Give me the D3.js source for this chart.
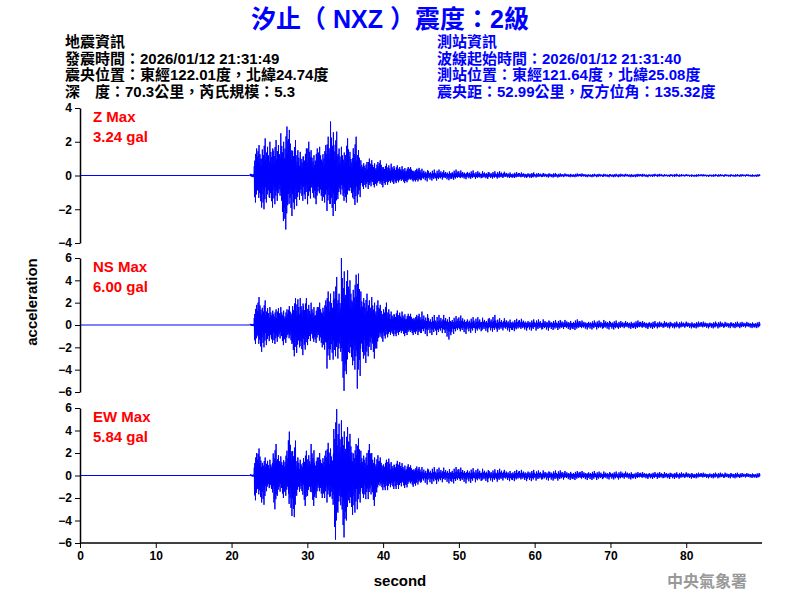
<!DOCTYPE html>
<html><head><meta charset="utf-8">
<script src="https://cdn.jsdelivr.net/npm/d3@7"></script>
<style>body{margin:0;background:#fff}text{font-family:Arial,"Liberation Sans","Noto Sans CJK TC",sans-serif}</style>
</head><body><svg id="c" width="800" height="600"></svg>
<script>
const title = "汐止（ NXZ ）震度：2級";
const quakeInfo = ["地震資訊","發震時間：2026/01/12 21:31:49","震央位置：東經122.01度，北緯24.74度","深　度：70.3公里，芮氏規模：5.3"];
const stationInfo = ["測站資訊","波線起始時間：2026/01/12 21:31:40","測站位置：東經121.64度，北緯25.08度","震央距：52.99公里，反方位角：135.32度"];
const channels = ["Z Max","NS Max","EW Max"];
const maxLabels = ["3.24 gal","6.00 gal","5.84 gal"];
const yTicksZ = [-4,-2,0,2,4];
const yTicksH = [-6,-4,-2,0,2,4,6];
const xTicks = [0,10,20,30,40,50,60,70,80];
// envelope bins: first 45 bins every 0.5 s from 22.5 s, then every 1 s from 45 s
const zMax = [0.1,1.6,1.8,2.2,1.7,2.0,2.1,1.8,2.5,2.9,2.7,2.1,1.5,1.4,1.6,2.0,1.5,1.6,1.7,1.8,2.3,3.2,2.6,1.6,1.7,2.2,1.4,2.3,1.5,0.9,0.8,1.0,0.9,0.8,0.9,0.7,0.6,0.7,0.6,0.5,0.55,0.5,0.5,0.4,0.45,
 0.4,0.35,0.35,0.3,0.35,0.3,0.3,0.25,0.25,0.25,0.25,0.22,0.2,0.18,0.18,0.15,0.15,0.15,0.12,0.12,0.12,0.12,0.1,0.1,0.1,0.1,0.1,0.1,0.1,0.1,0.1,0.1,0.08,0.1,0.08,0.08,0.08,0.08,0.08,0.08,0.08,0.08,0.08,0.08,0.08];
const zMin = [-0.1,-1.6,-1.9,-2.0,-1.6,-1.9,-1.7,-1.5,-2.7,-3.2,-2.4,-2.0,-1.8,-1.5,-1.4,-1.7,-1.3,-1.7,-1.5,-1.6,-2.1,-2.4,-2.1,-1.4,-1.5,-1.6,-1.3,-1.75,-1.6,-0.8,-0.7,-0.8,-0.7,-0.6,-0.7,-0.55,-0.55,-0.5,-0.45,-0.4,-0.45,-0.4,-0.35,-0.35,-0.35,
 -0.35,-0.3,-0.3,-0.28,-0.25,-0.22,-0.2,-0.2,-0.2,-0.18,-0.18,-0.15,-0.15,-0.15,-0.15,-0.12,-0.12,-0.12,-0.12,-0.1,-0.1,-0.1,-0.1,-0.1,-0.1,-0.1,-0.1,-0.1,-0.1,-0.1,-0.08,-0.08,-0.08,-0.08,-0.08,-0.08,-0.08,-0.08,-0.08,-0.08,-0.08,-0.08,-0.08,-0.08,-0.08];
const nsMax = [0.1,1.8,2.5,2.2,1.5,1.6,1.4,1.5,1.6,1.4,1.7,2.4,2.3,2.4,2.4,1.8,2.0,1.6,2.0,2.2,3.0,2.8,4.3,2.8,6.0,4.9,4.0,4.5,4.6,3.0,2.8,2.2,2.5,2.2,1.8,2.0,1.4,1.2,1.3,1.1,1.2,1.0,1.0,0.9,1.0,
 1.2,0.9,0.9,0.9,0.8,0.85,0.7,0.7,0.65,0.9,0.6,0.6,0.55,0.55,0.5,0.5,0.5,0.45,0.45,0.45,0.5,0.4,0.4,0.4,0.45,0.4,0.35,0.35,0.4,0.35,0.35,0.3,0.35,0.3,0.3,0.3,0.3,0.3,0.3,0.3,0.28,0.3,0.28,0.28,0.28];
const nsMin = [-0.1,-1.7,-2.4,-2.0,-1.8,-1.6,-1.7,-1.5,-1.8,-1.6,-1.7,-2.8,-2.5,-2.7,-2.2,-1.8,-1.5,-1.6,-2.0,-2.2,-3.9,-3.1,-2.8,-3.0,-5.9,-4.4,-3.6,-4.0,-5.7,-3.0,-3.4,-2.8,-3.0,-2.1,-1.5,-1.2,-1.1,-1.0,-1.0,-0.9,-1.0,-0.9,-0.9,-0.8,-0.9,
 -1.0,-0.9,-0.9,-1.3,-0.8,-0.8,-0.7,-0.7,-0.65,-0.6,-0.6,-0.6,-0.55,-0.5,-0.5,-0.5,-0.5,-0.45,-0.45,-0.45,-0.45,-0.4,-0.4,-0.4,-0.4,-0.4,-0.35,-0.35,-0.35,-0.35,-0.35,-0.3,-0.3,-0.3,-0.3,-0.3,-0.3,-0.3,-0.3,-0.3,-0.28,-0.28,-0.28,-0.28,-0.28];
const ewMax = [0.1,2.0,2.4,1.6,1.3,1.4,2.8,1.8,1.7,2.2,3.9,3.1,1.6,1.4,2.2,1.8,2.8,1.6,2.0,2.2,2.9,2.4,5.9,4.6,4.9,4.3,3.7,2.8,3.3,2.2,2.0,2.8,2.0,1.8,1.6,1.4,1.5,1.2,1.3,1.2,1.1,1.0,0.9,0.8,0.75,
 0.75,0.75,0.7,0.7,0.75,0.7,0.65,0.6,0.6,0.55,0.6,0.5,0.5,0.5,0.5,0.45,0.45,0.45,0.45,0.4,0.4,0.4,0.4,0.35,0.35,0.35,0.35,0.35,0.3,0.3,0.3,0.3,0.3,0.28,0.28,0.28,0.25,0.25,0.25,0.25,0.25,0.25,0.22,0.22,0.22];
const ewMin = [-0.1,-2.2,-2.4,-2.6,-1.4,-1.5,-3.0,-1.8,-2.0,-1.8,-3.6,-3.7,-1.8,-1.7,-2.7,-1.8,-2.7,-2.0,-2.0,-2.0,-2.4,-2.6,-5.7,-3.3,-5.5,-4.0,-3.5,-3.3,-3.0,-2.0,-2.1,-2.1,-2.7,-1.5,-1.3,-1.3,-1.3,-1.2,-1.2,-1.2,-1.1,-1.05,-1.0,-0.9,-0.8,
 -0.8,-0.75,-0.75,-0.7,-0.7,-0.7,-0.65,-0.6,-0.6,-0.55,-0.55,-0.5,-0.5,-0.5,-0.5,-0.45,-0.45,-0.45,-0.45,-0.4,-0.4,-0.4,-0.4,-0.4,-0.35,-0.35,-0.35,-0.35,-0.3,-0.3,-0.3,-0.3,-0.3,-0.3,-0.28,-0.28,-0.25,-0.25,-0.25,-0.25,-0.25,-0.25,-0.22,-0.22,-0.22];
// drawing texture: relative heights of the sub-swings inside one bin
const swing = [1,0.45,0.7,0.35,0.55,0.3,0.8,0.4];
const binTime = i => i < 45 ? 22.5 + 0.5*i : 45 + (i-45);

const svg = d3.select("#c");
const x = d3.scaleLinear().domain([0,90]).range([80,762]);
const panels = [
 {top:108,bot:243,dom:[-4,4],ticks:yTicksZ,mx:zMax,mn:zMin},
 {top:258,bot:392,dom:[-6,6],ticks:yTicksH,mx:nsMax,mn:nsMin},
 {top:408,bot:543,dom:[-6,6],ticks:yTicksH,mx:ewMax,mn:ewMin}];
panels.forEach((p,k)=>{
  const y = d3.scaleLinear().domain(p.dom).range([p.bot,p.top]);
  const pts = [[0,0],[22.4,0]];
  const n = Math.min(p.mx.length,p.mn.length);
  for(let i=0;i<n;i++){
    const t=binTime(i), w=i<45?0.5:1, m=swing.length, s=(i*3)%m;
    for(let j=0;j<m;j++){
      pts.push([t+j*w/m, p.mx[i]*swing[(j+s)%m]]);
      pts.push([t+(j+0.5)*w/m, p.mn[i]*swing[(j+s+3)%m]]);
    }
  }
  svg.append("path").attr("d",d3.line().x(d=>x(d[0])).y(d=>y(d[1]))(pts.filter(d=>d[0]<=89.8)))
    .attr("fill","none").attr("stroke","#0000ff").attr("stroke-width",1);
  const ax = svg.append("g").attr("transform","translate(80,0)").call(d3.axisLeft(y).tickValues(p.ticks).tickSize(5).tickSizeOuter(0));
  ax.select(".domain").attr("stroke","#000").attr("stroke-width",1.5);
  ax.selectAll("text").attr("font-size",12).attr("font-weight","bold").attr("fill","#000");
  svg.append("text").attr("x",93).attr("y",p.top+14).attr("fill","#ff0000").attr("font-size",15).attr("font-weight","bold").text(channels[k]);
  svg.append("text").attr("x",93).attr("y",p.top+34).attr("fill","#ff0000").attr("font-size",15).attr("font-weight","bold").text(maxLabels[k]);
});
const xa = svg.append("g").attr("transform","translate(0,543)").call(d3.axisBottom(x).tickValues(xTicks).tickSize(5).tickSizeOuter(0));
xa.select(".domain").attr("d","M80,0H762").attr("stroke-width",1.5);
xa.selectAll("text").attr("font-size",12).attr("font-weight","bold");
svg.append("text").attr("x",400).attr("y",586).attr("text-anchor","middle").attr("font-size",15).attr("font-weight","bold").text("second");
svg.append("text").attr("transform","translate(37,302) rotate(-90)").attr("text-anchor","middle").attr("font-size",15).attr("font-weight","bold").text("acceleration");
svg.append("text").attr("x",390).attr("y",28).attr("text-anchor","middle").attr("font-size",25).attr("font-weight","bold").attr("fill","#0000ff").text(title);
quakeInfo.forEach((s,i)=>svg.append("text").attr("x",65).attr("y",47+i*16.5).attr("font-size",15).attr("font-weight","bold").text(s));
stationInfo.forEach((s,i)=>svg.append("text").attr("x",437).attr("y",47+i*16.5).attr("font-size",15).attr("font-weight","bold").attr("fill","#0000ff").text(s));
svg.append("text").attr("x",747).attr("y",587).attr("text-anchor","end").attr("font-size",16).attr("font-weight","bold").attr("fill","#999").attr("font-family","'Noto Sans CJK TC'").text("中央氣象署");
</script></body></html>
